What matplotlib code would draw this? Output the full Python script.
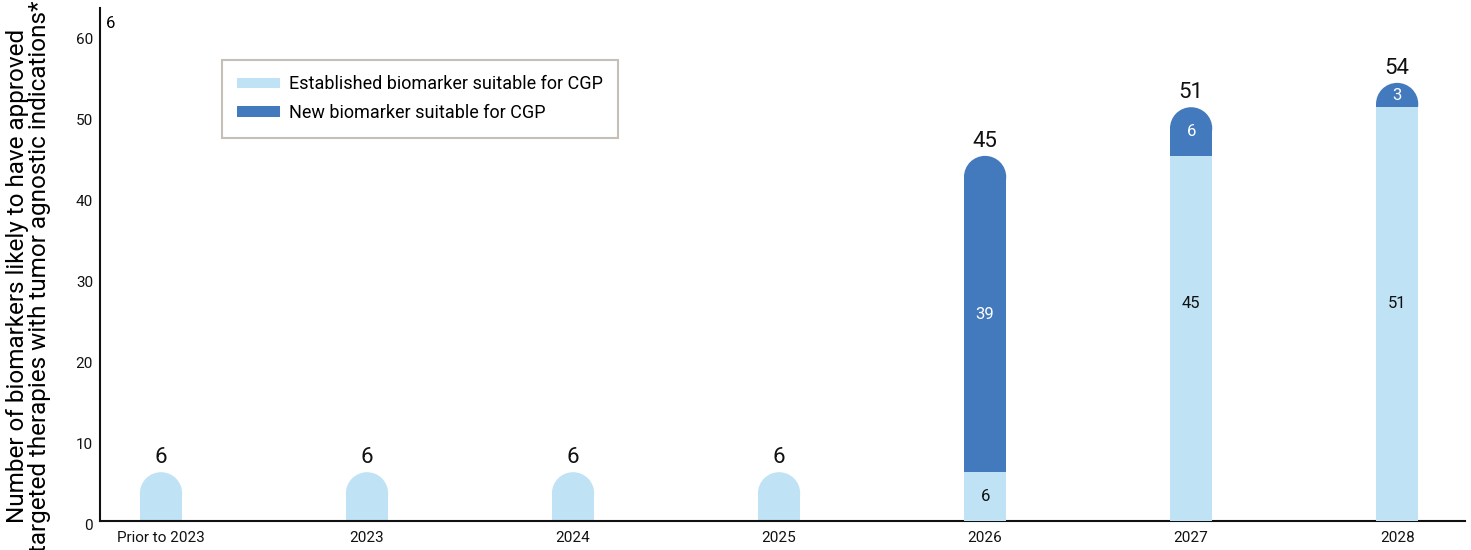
import matplotlib
matplotlib.use("Agg")
import matplotlib.pyplot as plt
import matplotlib.transforms as mtransforms
from matplotlib.patches import Ellipse, Patch

# ---- data ------------------------------------------------------------------
categories = ["Prior to 2023", "2023", "2024", "2025", "2026", "2027", "2028"]
established = [6, 6, 6, 6, 6, 45, 51]
new = [0, 0, 0, 0, 39, 6, 3]
totals = [a + b for a, b in zip(established, new)]

light = "#bfe2f5"
dark = "#437abd"

plt.rcParams["font.family"] = ["Roboto", "DejaVu Sans"]

fig = plt.figure(figsize=(14.71, 5.5), dpi=100)
ax = fig.add_axes([0.068, 0.053, 0.928, 0.932])

x = list(range(len(categories)))
width = 0.205
ax.set_xlim(-0.296, 6.33)
ax.set_ylim(0, 63.2)

# radius of the rounded cap in y data units (half the bar width in pixels)
p0 = ax.transData.transform((0, 0))
p1 = ax.transData.transform((width, 1))
r_px = (p1[0] - p0[0]) / 2
r_y = r_px / (p1[1] - p0[1])


def rounded_segment(xc, bottom, height, color, z):
    top = bottom + height
    ax.bar(xc, top - r_y - bottom, width=width, bottom=bottom, color=color,
           linewidth=0, zorder=z)
    ax.add_patch(Ellipse((xc, top - r_y), width, 2 * r_y, facecolor=color,
                         edgecolor="none", zorder=z))


for i in x:
    if new[i] > 0:
        rounded_segment(i, established[i], new[i], dark, 2)
        ax.bar(i, established[i], width=width, color=light, linewidth=0, zorder=3)
    else:
        rounded_segment(i, 0, established[i], light, 2)

    ax.annotate(str(totals[i]), (i, totals[i]), xytext=(0, 3),
                textcoords="offset points", ha="center", va="bottom",
                fontsize=16, color="#111111")
    if new[i] > 0:
        # the tall light segments carry their label a little above centre
        est_y = established[i] / 2 if established[i] < 20 else 26.8
        ax.text(i, est_y, str(established[i]),
                ha="center", va="center", fontsize=12, color="#111111", zorder=5)
        ax.text(i, established[i] + new[i] / 2, str(new[i]),
                ha="center", va="center", fontsize=12, color="white", zorder=5)

ax.set_xticks(x)
ax.set_xticklabels(categories, fontsize=11)
ax.set_yticks(range(0, 61, 10))
ax.tick_params(axis="both", length=0, labelsize=11, colors="#111111")
ax.tick_params(axis="y", pad=5)
ax.tick_params(axis="x", pad=7)

# y tick labels sit a few pixels low in the original
shift = mtransforms.ScaledTranslation(0, -4 / 100, fig.dpi_scale_trans)
for lbl in ax.get_yticklabels():
    lbl.set_transform(lbl.get_transform() + shift)

for side in ["top", "right"]:
    ax.spines[side].set_visible(False)
for side in ["left", "bottom"]:
    ax.spines[side].set_linewidth(1.5)
    ax.spines[side].set_color("#111111")

ax.set_ylabel("Number of biomarkers likely to have approved\n"
              "targeted therapies with tumor agnostic indications*",
              fontsize=17.5, linespacing=0.95)
ax.yaxis.set_label_coords(-0.036, 0.478)

# stray label left over in the top corner of the original
ax.text(0.004, 0.97, "6", transform=ax.transAxes, fontsize=12,
        ha="left", va="center")

handles = [Patch(facecolor=light, edgecolor="none"),
           Patch(facecolor=dark, edgecolor="none")]
leg = ax.legend(handles, ["Established biomarker suitable for CGP",
                          "New biomarker suitable for CGP"],
                loc="upper left", bbox_to_anchor=(0.089, 0.899),
                borderaxespad=0, fontsize=13, frameon=True, fancybox=False,
                handlelength=2.4, handleheight=0.55, labelspacing=0.6,
                borderpad=0.85, handletextpad=0.5)
leg.get_frame().set_edgecolor("#b8b0a8")
leg.get_frame().set_linewidth(1.5)

fig.savefig("out.png", dpi=100)
